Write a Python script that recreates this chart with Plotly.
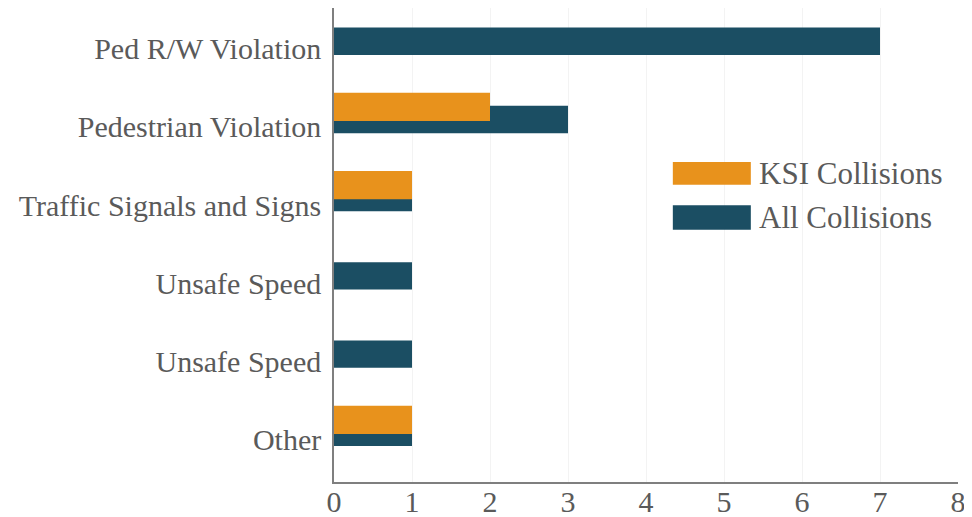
import plotly.graph_objects as go

categories = ["Ped R/W Violation", "Pedestrian Violation", "Traffic Signals and Signs",
              "Unsafe Speed", "Unsafe Speed", "Other"]
ksi_values = [0, 2, 1, 0, 0, 1]
all_values = [7, 3, 1, 1, 1, 1]
x_ticks = [0, 1, 2, 3, 4, 5, 6, 7, 8]
series_names = ["KSI Collisions", "All Collisions"]

ORANGE = "#E8921C"
TEAL = "#1B4E63"
TEXT = "#5a5a5a"
FONT = "Liberation Serif"

positions = list(range(len(categories)))

fig = go.Figure()
fig.add_trace(go.Bar(y=positions, x=all_values, orientation="h", name=series_names[1],
                     marker=dict(color=TEAL, line=dict(width=0)),
                     offset=-0.27, width=0.35, showlegend=False))
fig.add_trace(go.Bar(y=positions, x=ksi_values, orientation="h", name=series_names[0],
                     marker=dict(color=ORANGE, line=dict(width=0)),
                     offset=-0.435, width=0.36, showlegend=False))

# Manual legend with wide swatches
legend_items = [(series_names[0], ORANGE, 0.627, 0.675), (series_names[1], TEAL, 0.532, 0.584)]
for name, color, y0, y1 in legend_items:
    fig.add_shape(type="rect", xref="paper", yref="paper", x0=0.543, x1=0.668,
                  y0=y0, y1=y1, fillcolor=color, line=dict(width=0))
    fig.add_annotation(xref="paper", yref="paper", x=0.678, y=(y0 + y1) / 2,
                       text=name, showarrow=False, xanchor="left", yanchor="middle",
                       font=dict(family=FONT, size=31, color=TEXT))

fig.update_layout(
    barmode="overlay",
    width=972, height=517,
    margin=dict(l=326, r=22, t=0, b=43, autoexpand=False),
    paper_bgcolor="white", plot_bgcolor="white",
    font=dict(family=FONT, size=30, color=TEXT),
)
fig.update_xaxes(range=[0, 8], tickvals=x_ticks, ticktext=[str(v) for v in x_ticks],
                 showline=True, linecolor="#7f7f7f", linewidth=1.5, automargin=False,
                 showgrid=True, gridcolor="#f3f3f3", zeroline=False, ticks="",
                 ticklabelstandoff=-8,
                 tickfont=dict(family=FONT, size=30, color=TEXT))
fig.update_yaxes(range=[5.54, -0.52], tickvals=positions, ticktext=categories,
                 showline=True, linecolor="#7f7f7f", linewidth=1.5, automargin=False,
                 showgrid=False, zeroline=False, ticks="", ticklabelstandoff=5,
                 tickfont=dict(family=FONT, size=30, color=TEXT))

fig.write_html("out.html")
